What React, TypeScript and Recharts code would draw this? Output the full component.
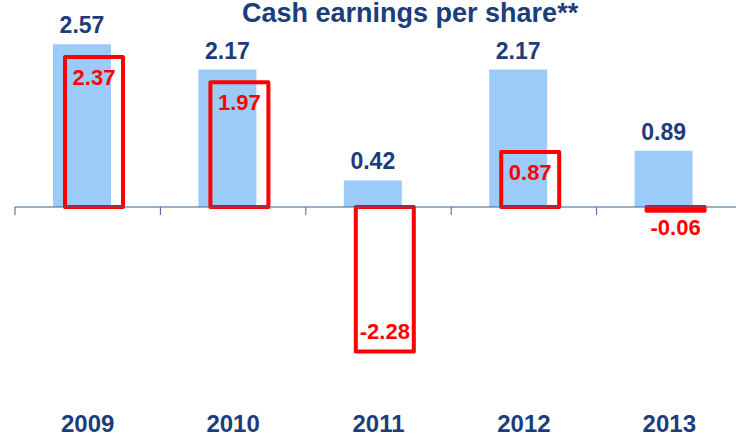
import React from 'react';
import { BarChart, Bar, XAxis, YAxis, ReferenceLine, LabelList } from 'recharts';

const years = ['2009', '2010', '2011', '2012', '2013'];
const reported = [2.57, 2.17, 0.42, 2.17, 0.89];
const adjusted = [2.37, 1.97, -2.28, 0.87, -0.06];

const data = years.map((year, i) => ({ year, reported: reported[i], adjusted: adjusted[i] }));

const NAVY = '#1C3D7A';
const RED = '#FF0000';
const FONT = '"Liberation Sans", Arial, sans-serif';

const YearTick = ({ x, y, payload }: any) => (
  <text x={x} y={y} dy={35} textAnchor="middle" fill={NAVY} fontSize={24} fontWeight="bold" fontFamily={FONT}>
    {payload.value}
  </text>
);

// zero line with tick marks on the category boundaries
const ZeroAxis = (props: any) => {
  const { x1, y1, x2 } = props;
  const step = (x2 - x1) / years.length;
  return (
    <g>
      <line x1={x1} y1={y1} x2={x2} y2={y1} stroke="#3F5F95" strokeWidth={1} />
      {years.map((_, i) => (
        <line key={i} x1={x1 + i * step} y1={y1} x2={x1 + i * step} y2={y1 + 8} stroke="#3F5F95" strokeWidth={1} />
      ))}
    </g>
  );
};

const RedLabel = (props: any) => {
  const { x, y, width, height, value } = props;
  const top = Math.min(y, y + height);
  const bottom = Math.max(y, y + height);
  const cx = x + width / 2;
  let ty;
  if (value >= 0) ty = top + 28;
  else if (bottom - top > 40) ty = bottom - 12;
  else ty = bottom + 24;
  return (
    <text x={cx} y={ty} textAnchor="middle" fill={RED} fontSize={22} fontWeight="bold" fontFamily={FONT}>
      {value.toFixed(2)}
    </text>
  );
};

export default function App() {
  return (
    <div style={{ position: 'absolute', left: 0, top: 0, width: 736, height: 435, overflow: 'hidden', background: '#fff' }}>
      <div
        style={{
          position: 'absolute',
          left: 242,
          top: 0,
          color: NAVY,
          fontFamily: FONT,
          fontWeight: 'bold',
          fontSize: 27,
          lineHeight: '27px',
          whiteSpace: 'nowrap',
        }}
      >
        Cash earnings per share**
      </div>
      <BarChart width={750} height={435} data={data} margin={{ top: 17, right: 8, left: 15, bottom: 0 }} barSize={58} barGap={-46}>
        <XAxis dataKey="year" axisLine={false} tickLine={false} tickSize={0} tickMargin={0} height={38} tick={<YearTick />} interval={0} />
        <YAxis hide domain={[-3, 3]} />
        <Bar dataKey="reported" fill="#9CCBFA" isAnimationActive={false}>
          <LabelList dataKey="reported" position="top" offset={11} fill={NAVY} fontSize={23} fontWeight="bold" fontFamily={FONT} formatter={(v: any) => Number(v).toFixed(2)} />
        </Bar>
        <ReferenceLine y={0} shape={<ZeroAxis />} />
        <Bar dataKey="adjusted" fill="none" stroke={RED} strokeWidth={4} strokeLinejoin="round" isAnimationActive={false}>
          <LabelList dataKey="adjusted" content={<RedLabel />} />
        </Bar>
      </BarChart>
    </div>
  );
}
